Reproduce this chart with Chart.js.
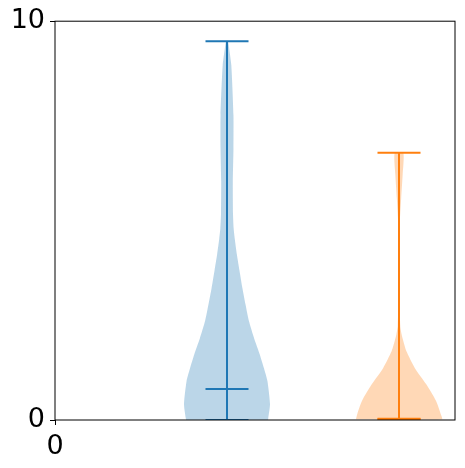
<!DOCTYPE html>
<html>
<head>
<meta charset="utf-8">
<script src="https://cdn.jsdelivr.net/npm/chart.js@4"></script>
<style>
  body { margin: 0; background: #fff; }
</style>
</head>
<body>
<canvas id="violinChart" width="465" height="468"></canvas>
<script>
// violin positions on the x axis
var positions = [1, 2];
var xTicks = [0];
var yTicks = [0, 10];

// blue violin: density profile (relative width) read at each level
var blueLevels  = [0, 0.05, 0.4, 0.98, 1.3, 1.65, 2.05, 2.48, 2.9, 3.3, 3.75, 4.15, 4.55, 4.8, 5.15, 5.98, 6.8, 7.65, 8.9, 9.4, 9.5];
var blueDensity = [0.95, 0.96, 1.0, 0.94, 0.86, 0.76, 0.63, 0.51, 0.43, 0.36, 0.29, 0.23, 0.18, 0.155, 0.14, 0.135, 0.15, 0.15, 0.10, 0.04, 0.02];
var blueMin = 0, blueMedian = 0.78, blueMax = 9.5;

// orange violin
var orangeLevels  = [0.02, 0.15, 0.48, 0.9, 1.3, 1.73, 1.98, 2.15, 2.35, 3.0, 4.0, 4.98, 5.55, 6.15, 6.7];
var orangeDensity = [1.0, 0.97, 0.86, 0.63, 0.37, 0.17, 0.10, 0.06, 0.03, 0.015, 0.01, 0.02, 0.05, 0.085, 0.1];
var orangeMin = 0.02, orangeMedian = 0.03, orangeMax = 6.7;

var halfWidth = 0.25;
var capHalf = 0.125;

function violinShape(pos, levels, density) {
    var pts = [];
    for (var i = 0; i < levels.length; i++) {
        pts.push({x: pos - density[i] * halfWidth, y: levels[i]});
    }
    for (var j = levels.length - 1; j >= 0; j--) {
        pts.push({x: pos + density[j] * halfWidth, y: levels[j]});
    }
    pts.push(pts[0]);
    return pts;
}

function segment(x1, y1, x2, y2, color) {
    return {
        data: [{x: x1, y: y1}, {x: x2, y: y2}],
        borderColor: color,
        borderWidth: 2,
        pointRadius: 0,
        fill: false
    };
}

function statLines(pos, mn, med, mx, color) {
    return [
        segment(pos, mn, pos, mx, color),
        segment(pos - capHalf, mn, pos + capHalf, mn, color),
        segment(pos - capHalf, med, pos + capHalf, med, color),
        segment(pos - capHalf, mx, pos + capHalf, mx, color)
    ];
}

var datasets = []
    .concat(statLines(positions[0], blueMin, blueMedian, blueMax, '#1f77b4'))
    .concat(statLines(positions[1], orangeMin, orangeMedian, orangeMax, '#ff7f0e'));

datasets.push({
    data: violinShape(positions[0], blueLevels, blueDensity),
    borderColor: 'rgba(0,0,0,0)',
    backgroundColor: 'rgba(31,119,180,0.3)',
    borderWidth: 1,
    pointRadius: 0,
    tension: 0.2,
    fill: 'shape'
});
datasets.push({
    data: violinShape(positions[1], orangeLevels, orangeDensity),
    borderColor: 'rgba(0,0,0,0)',
    backgroundColor: 'rgba(255,127,14,0.3)',
    borderWidth: 1,
    pointRadius: 0,
    tension: 0.2,
    fill: 'shape'
});

// frame around the plot area
var frame = {
    id: 'frame',
    afterDraw: function(chart) {
        var a = chart.chartArea, ctx = chart.ctx;
        ctx.save();
        ctx.strokeStyle = '#000';
        ctx.lineWidth = 1;
        ctx.strokeRect(a.left, a.top, a.right - a.left, a.bottom - a.top);
        ctx.restore();
    }
};

var tickFont = {family: 'DejaVu Sans', size: 27};

var ctx = document.getElementById('violinChart').getContext('2d');
var chart = new Chart(ctx, {
    type: 'line',
    data: {datasets: datasets},
    options: {
        responsive: false,
        animation: false,
        layout: {padding: {top: 20, right: 10, left: 0, bottom: 0}},
        plugins: {legend: {display: false}, tooltip: {enabled: false}},
        scales: {
            x: {
                type: 'linear',
                min: 0,
                max: 400 / 172,
                afterBuildTicks: function(axis) {
                    axis.ticks = xTicks.map(function(v) { return {value: v}; });
                },
                afterFit: function(axis) { axis.height = 48; },
                grid: {drawOnChartArea: false, drawTicks: true, tickLength: 5, color: '#000'},
                border: {display: false},
                ticks: {color: '#000', font: tickFont, padding: 6, maxRotation: 0}
            },
            y: {
                type: 'linear',
                min: 0,
                max: 10,
                afterBuildTicks: function(axis) {
                    axis.ticks = yTicks.map(function(v) { return {value: v}; });
                },
                afterFit: function(axis) { axis.width = 55; },
                grid: {drawOnChartArea: false, drawTicks: true, tickLength: 5, color: '#000'},
                border: {display: false},
                ticks: {color: '#000', font: tickFont, padding: 5}
            }
        }
    },
    plugins: [frame]
});
</script>
</body>
</html>
